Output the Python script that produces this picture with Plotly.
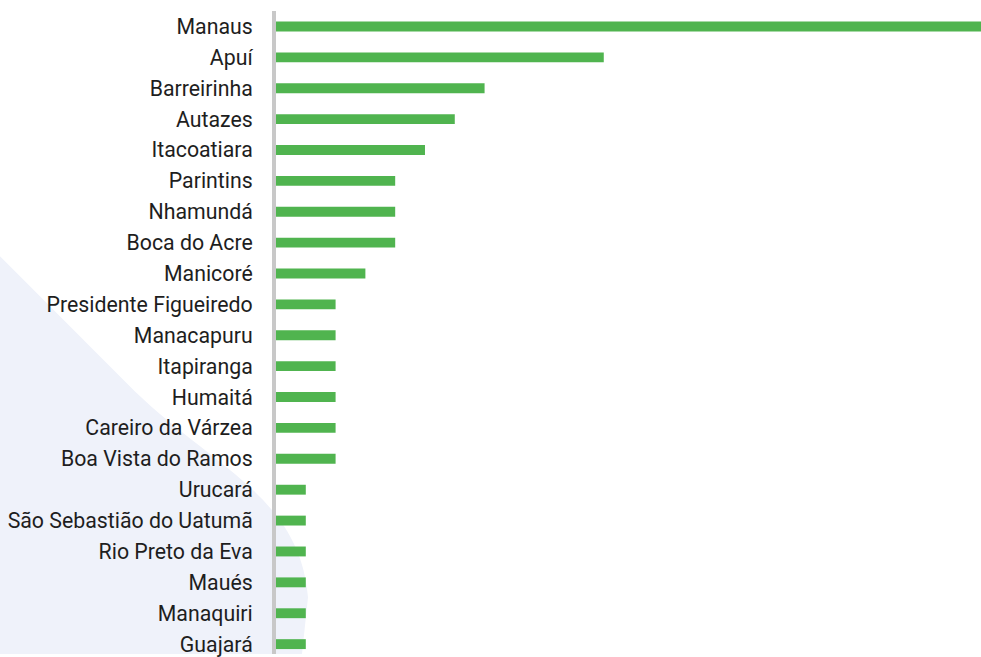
import plotly.graph_objects as go

# Municípios (top to bottom) and their counts
municipios = [
    "Manaus", "Apuí", "Barreirinha", "Autazes", "Itacoatiara", "Parintins",
    "Nhamundá", "Boca do Acre", "Manicoré", "Presidente Figueiredo",
    "Manacapuru", "Itapiranga", "Humaitá", "Careiro da Várzea",
    "Boa Vista do Ramos", "Urucará", "São Sebastião do Uatumã",
    "Rio Preto da Eva", "Maués", "Manaquiri", "Guajará",
]
valores = [24, 11, 7, 6, 5, 4, 4, 4, 3, 2, 2, 2, 2, 2, 2, 1, 1, 1, 1, 1, 1]

W, H = 981, 657
L, R, T, B = 276, 0, 10.5, 0
PW, PH = W - L - R, H - T - B


def to_paper(px, py):
    return (px - L) / PW, (H - B - py) / PH


# decorative light backdrop on the lower-left
pts = [("M", [(0, 257)]), ("L", [(135, 393)]),
       ("C", [(215, 470), (300, 500), (308, 600)]),
       ("L", [(302, 657)]), ("L", [(0, 657)])]
path = ""
for cmd, coords in pts:
    path += cmd + " " + " ".join("%.5f,%.5f" % to_paper(x, y) for x, y in coords) + " "
path += "Z"

fig = go.Figure()
fig.add_trace(go.Bar(
    x=valores, y=municipios, orientation="h",
    marker=dict(color="#50b44f", line=dict(width=0)),
    hoverinfo="x+y",
))

fig.update_layout(
    width=W, height=H,
    margin=dict(l=L, r=R, t=T, b=B, pad=0),
    paper_bgcolor="white", plot_bgcolor="rgba(0,0,0,0)",
    bargap=0.68, showlegend=False,
    font=dict(family="Roboto", size=21.3, color="#1e1e1e"),
    shapes=[dict(type="path", path=path, xref="paper", yref="paper",
                 fillcolor="#eff2fa", line=dict(width=0), layer="below")],
)
fig.update_xaxes(range=[0, 23.66], showgrid=False, zeroline=False,
                 showticklabels=False, showline=False, fixedrange=True)
fig.update_yaxes(range=[20.32, -0.5], showgrid=False, zeroline=False,
                 showline=True, linecolor="#c8c8c8", linewidth=4,
                 ticks="", ticklabelstandoff=15, fixedrange=True)

fig.write_html("out.html")
